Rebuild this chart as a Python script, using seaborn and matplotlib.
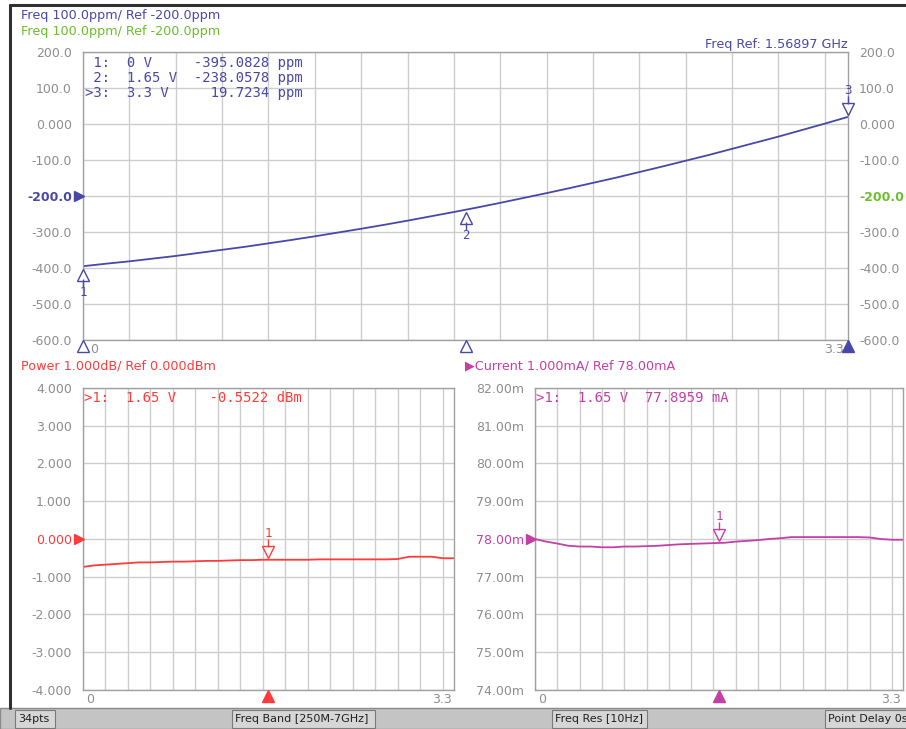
import matplotlib
matplotlib.use("Agg")
import matplotlib.pyplot as plt
import seaborn as sns
from matplotlib.transforms import offset_copy, blended_transform_factory
from matplotlib.patches import Rectangle
from matplotlib.lines import Line2D

# sweep voltage, 34 points (0 .. 3.3 V)
volts = [0.0, 0.1, 0.2, 0.3, 0.4, 0.5, 0.6, 0.7, 0.8, 0.9, 1.0, 1.1,
         1.2, 1.3, 1.4, 1.5, 1.6, 1.7, 1.8, 1.9, 2.0, 2.1, 2.2, 2.3,
         2.4, 2.5, 2.6, 2.7, 2.8, 2.9, 3.0, 3.1, 3.2, 3.3]

# frequency deviation, ppm
freq_ppm = [-395.1, -388.0, -381.5, -374.0, -366.5, -358.0, -349.5, -341.0,
            -331.5, -322.0, -312.0, -301.5, -291.0, -280.0, -268.5, -256.5,
            -244.5, -232.0, -219.0, -205.5, -192.0, -178.0, -163.5, -149.0,
            -133.5, -118.0, -102.0, -86.0, -69.0, -52.0, -35.0, -17.0,
            1.0, 19.7]

# output power, dBm
power_dbm = [-0.74, -0.70, -0.68, -0.66, -0.64, -0.62, -0.62, -0.61,
             -0.60, -0.60, -0.59, -0.58, -0.58, -0.57, -0.56, -0.56,
             -0.55, -0.55, -0.55, -0.55, -0.55, -0.54, -0.54, -0.54,
             -0.54, -0.54, -0.54, -0.54, -0.53, -0.47, -0.47, -0.47,
             -0.51, -0.51]

# supply current, mA
current_ma = [78.00, 77.93, 77.88, 77.82, 77.80, 77.80, 77.78, 77.78,
              77.80, 77.80, 77.81, 77.82, 77.84, 77.86, 77.87, 77.88,
              77.89, 77.90, 77.93, 77.95, 77.97, 78.00, 78.02, 78.05,
              78.05, 78.05, 78.05, 78.05, 78.05, 78.05, 78.04, 78.00,
              77.98, 77.98]

# markers
freq_mk_x = [0.0, 1.65, 3.3]
freq_mk_y = [-395.0828, -238.0578, 19.7234]
freq_mk_v = ["0 V", "1.65 V", "3.3 V"]
power_mk = (1.65, -0.5522)
current_mk = (1.65, 77.8959)

freq_ticks = [200, 100, 0, -100, -200, -300, -400, -500, -600]
freq_labels = ["200.0", "100.0", "0.000", "-100.0", "-200.0", "-300.0",
               "-400.0", "-500.0", "-600.0"]
power_ticks = [4, 3, 2, 1, 0, -1, -2, -3, -4]
power_labels = ["4.000", "3.000", "2.000", "1.000", "0.000", "-1.000",
                "-2.000", "-3.000", "-4.000"]
current_ticks = [82, 81, 80, 79, 78, 77, 76, 75, 74]
current_labels = ["82.00m", "81.00m", "80.00m", "79.00m", "78.00m",
                  "77.00m", "76.00m", "75.00m", "74.00m"]
grid_x = [0.0, 0.2, 0.4, 0.6, 0.8, 1.0, 1.2, 1.4, 1.6, 1.8, 2.0, 2.2,
          2.4, 2.6, 2.8, 3.0, 3.2]

BLUE = "#4848a8"
GREEN = "#6cbf2c"
RED = "#ff3b3b"
MAG = "#c43fa6"
GREY = "#8e8e8e"
MONO = "DejaVu Sans Mono"

sns.set_style("white")
plt.rcParams['font.family'] = ['DejaVu Sans']

fig = plt.figure(figsize=(9.06, 7.29), dpi=100)
ax_f = fig.add_axes([0.0916, 0.5336, 0.8444, 0.3951])
ax_p = fig.add_axes([0.0916, 0.0535, 0.4095, 0.4143])
ax_c = fig.add_axes([0.5905, 0.0535, 0.4062, 0.4143])


def style_axes(ax, ylim, ticks, labels):
    ax.set_xlim(0, 3.3)
    ax.set_ylim(*ylim)
    ax.set_xticks(grid_x)
    ax.set_xticklabels([])
    ax.set_yticks(ticks)
    ax.set_yticklabels(labels)
    ax.grid(True, color="#cdcdcd", lw=1.0)
    ax.set_axisbelow(True)
    ax.tick_params(length=0, labelcolor=GREY, labelsize=9, pad=8)
    for s in ax.spines.values():
        s.set_color("#a0a0a0")
        s.set_linewidth(1.0)
    ax.set_xlabel("")
    ax.set_ylabel("")
    # 0 and 3.3 under the axis
    tr = blended_transform_factory(ax.transData, ax.transAxes)
    ax.text(0.03, -0.01, "0", transform=tr, color=GREY, fontsize=9,
            ha="left", va="top")
    ax.text(3.28, -0.01, "3.3", transform=tr, color=GREY, fontsize=9,
            ha="right", va="top")


def trace_marker(ax, x, y, num, color, up):
    if up:
        dy, m, ty, tva = -6, "^", -14, "top"
    else:
        dy, m, ty, tva = 6, "v", 14, "bottom"
    tr = offset_copy(ax.transData, fig=fig, x=0, y=dy, units="points")
    ax.plot([x], [y], marker=m, ms=9, mfc="white", mec=color, mew=1.0,
            transform=tr, clip_on=False, zorder=6)
    tr2 = offset_copy(ax.transData, fig=fig, x=0, y=2 * dy, units="points")
    ax.plot([x], [y], marker="|", ms=6, mec=color, mew=1.0,
            transform=tr2, clip_on=False, zorder=6)
    ax.annotate(num, (x, y), xytext=(0, ty), textcoords="offset points",
                ha="center", va=tva, color=color, fontsize=9,
                family=MONO, zorder=6, annotation_clip=False)


def edge_marker(ax, x, color, filled):
    tr = blended_transform_factory(ax.transData, ax.transAxes)
    tr = offset_copy(tr, fig=fig, x=0, y=-4, units="points")
    ax.plot([x], [0], marker="^", ms=8, mfc=color if filled else "white",
            mec=color, mew=1.0, transform=tr, clip_on=False, zorder=7)


def ref_marker(ax, y, color):
    tr = blended_transform_factory(ax.transAxes, ax.transData)
    tr = offset_copy(tr, fig=fig, x=-3, y=0, units="points")
    ax.plot([0], [y], marker=">", ms=6.5, mfc=color, mec=color,
            transform=tr, clip_on=False, zorder=7)


# --- frequency panel
sns.lineplot(x=volts, y=freq_ppm, ax=ax_f, color=BLUE, lw=1.3)
style_axes(ax_f, (-600, 200), freq_ticks, freq_labels)
ax_f.tick_params(labelright=True, pad=8)
for t, lab in zip(ax_f.yaxis.get_major_ticks(), freq_labels):
    if lab == "-200.0":
        t.label1.set_color(BLUE)
        t.label1.set_fontweight("bold")
        t.label2.set_color(GREEN)
        t.label2.set_fontweight("bold")
ref_marker(ax_f, -200, BLUE)
for i, (mx, my) in enumerate(zip(freq_mk_x, freq_mk_y)):
    trace_marker(ax_f, mx, my, str(i + 1), BLUE, up=(i < 2))
    edge_marker(ax_f, mx, BLUE, filled=(i == 2))
for i, (my, mv) in enumerate(zip(freq_mk_y, freq_mk_v)):
    pre = ">" if i == 2 else " "
    ax_f.text(0.002, 0.985 - i * 0.052,
              f"{pre}{i + 1}:  {mv:<8}{my:>9.4f} ppm",
              transform=ax_f.transAxes, family=MONO, fontsize=10,
              color=BLUE, va="top", ha="left")
ax_f.text(1.0, 1.005, "Freq Ref: 1.56897 GHz", transform=ax_f.transAxes,
          ha="right", va="bottom", color=BLUE, fontsize=9.2)

# --- power panel
sns.lineplot(x=volts, y=power_dbm, ax=ax_p, color=RED, lw=1.3)
style_axes(ax_p, (-4, 4), power_ticks, power_labels)
for t, lab in zip(ax_p.yaxis.get_major_ticks(), power_labels):
    if lab == "0.000":
        t.label1.set_color(RED)
ref_marker(ax_p, 0, RED)
trace_marker(ax_p, power_mk[0], power_mk[1], "1", RED, up=False)
edge_marker(ax_p, power_mk[0], RED, filled=True)
ax_p.text(0.002, 0.99, f">1:  {'1.65 V':<8}{power_mk[1]:>9.4f} dBm",
          transform=ax_p.transAxes, family=MONO, fontsize=10, color=RED,
          va="top", ha="left")

# --- current panel
sns.lineplot(x=volts, y=current_ma, ax=ax_c, color=MAG, lw=1.3)
style_axes(ax_c, (74, 82), current_ticks, current_labels)
for t, lab in zip(ax_c.yaxis.get_major_ticks(), current_labels):
    if lab == "78.00m":
        t.label1.set_color(MAG)
ref_marker(ax_c, 78, MAG)
trace_marker(ax_c, current_mk[0], current_mk[1], "1", MAG, up=False)
edge_marker(ax_c, current_mk[0], MAG, filled=True)
ax_c.text(0.002, 0.99, f">1:  {'1.65 V':<8}{current_mk[1]:.4f} mA",
          transform=ax_c.transAxes, family=MONO, fontsize=10, color=MAG,
          va="top", ha="left")

# --- headers
fig.text(21 / 906, 1 - 15 / 729, "Freq 100.0ppm/ Ref -200.0ppm", color=BLUE,
         fontsize=9.2, va="center")
fig.text(21 / 906, 1 - 31 / 729, "Freq 100.0ppm/ Ref -200.0ppm", color=GREEN,
         fontsize=9.2, va="center")
fig.text(21 / 906, 1 - 366 / 729, "Power 1.000dB/ Ref 0.000dBm", color=RED,
         fontsize=9.2, va="center")
fig.text(465 / 906, 1 - 366 / 729, "\u25B6Current 1.000mA/ Ref 78.00mA",
         color=MAG, fontsize=9.2, va="center")

# --- frame and status bar
fig.add_artist(Line2D([9.5 / 906, 9.5 / 906], [21 / 729, 1 - 5 / 729],
                      color="#303030", lw=2.2))
fig.add_artist(Line2D([9.5 / 906, 1.0], [1 - 5 / 729, 1 - 5 / 729],
                      color="#303030", lw=2.2))
fig.add_artist(Rectangle((0, 0), 1, 21 / 729, transform=fig.transFigure,
                         facecolor="#c4c4c4", edgecolor="#8a8a8a", lw=1))
status = [("34pts", 15, 55), ("Freq Band [250M-7GHz]", 232, 375),
          ("Freq Res [10Hz]", 552, 647), ("Point Delay 0s", 825, 920)]
for txt, x0, x1 in status:
    fig.add_artist(Rectangle((x0 / 906, 1 / 729), (x1 - x0) / 906, 18 / 729,
                             transform=fig.transFigure, facecolor="#d6d6d6",
                             edgecolor="#7a7a7a", lw=0.8))
    fig.text((x0 + 3) / 906, 10 / 729, txt, fontsize=8, color="#202020",
             va="center", ha="left")

fig.savefig("out.png", dpi=100, facecolor="white")
